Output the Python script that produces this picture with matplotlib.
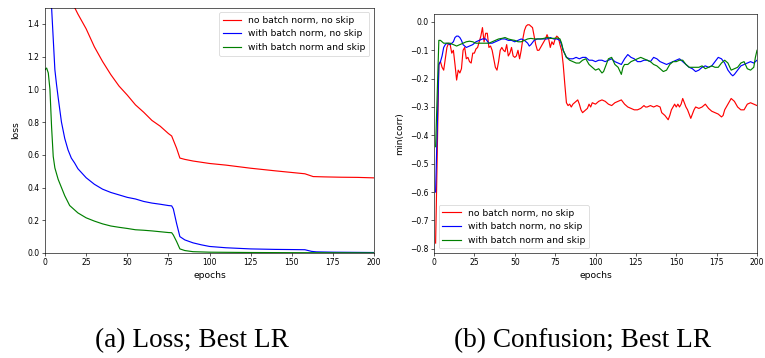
import matplotlib
matplotlib.use("Agg")
import matplotlib.pyplot as plt

# ---- loss curves (epoch, value) ----
loss_nobn_ep = [0, 5, 10, 15, 18, 20, 25, 30, 35, 40, 45, 50, 55, 60, 65, 70, 75, 77,
                80, 82, 85, 90, 100, 110, 125, 140, 150, 158, 163, 170, 180, 190, 200]
loss_nobn = [2.3, 2.0, 1.78, 1.58, 1.50, 1.46, 1.37, 1.26, 1.17, 1.09, 1.02, 0.965, 0.905,
             0.86, 0.81, 0.775, 0.73, 0.715, 0.64, 0.58, 0.572, 0.562, 0.547, 0.537, 0.518,
             0.502, 0.492, 0.484, 0.467, 0.465, 0.463, 0.462, 0.459]

loss_bn_ep = [0, 2, 4, 6, 7, 8, 10, 12, 14, 16, 18, 20, 25, 30, 35, 40, 50, 55, 60, 65, 70,
              75, 77, 78, 80, 82, 85, 90, 95, 100, 110, 125, 140, 150, 158, 162, 165, 175, 200]
loss_bn = [3.0, 2.1, 1.5, 1.12, 1.03, 0.95, 0.80, 0.70, 0.63, 0.58, 0.55, 0.515, 0.46, 0.42,
           0.39, 0.37, 0.34, 0.33, 0.315, 0.305, 0.298, 0.29, 0.288, 0.27, 0.18, 0.10, 0.08,
           0.062, 0.05, 0.04, 0.032, 0.025, 0.022, 0.021, 0.02, 0.01, 0.007, 0.005, 0.003]

loss_skip_ep = [0, 1, 2, 3, 4, 5, 6, 8, 10, 12, 15, 20, 25, 30, 35, 40, 45, 50, 55, 60, 65,
                70, 75, 77, 78, 80, 82, 85, 90, 100, 125, 150, 200]
loss_skip = [1.12, 1.13, 1.10, 1.00, 0.77, 0.59, 0.52, 0.45, 0.40, 0.35, 0.29, 0.245, 0.215,
             0.195, 0.178, 0.165, 0.157, 0.15, 0.142, 0.139, 0.135, 0.13, 0.125, 0.124, 0.11,
             0.07, 0.025, 0.015, 0.008, 0.005, 0.003, 0.002, 0.001]

# ---- minimum correlation curves (epoch, value) ----
corr_nobn_ep = [1, 3, 4, 5, 6, 7, 8, 9, 10, 11, 12, 13, 14, 15, 16, 17, 18, 19, 20, 21, 22,
                23, 24, 25, 26, 27, 28, 29, 30, 31, 32, 33, 34, 35, 36, 37, 38, 39, 40, 41,
                42, 43, 44, 45, 46, 47, 48, 49, 50, 51, 52, 53, 54, 55, 56, 57, 58, 59, 60,
                61, 62, 63, 64, 65, 66, 67, 68, 69, 70, 71, 72, 73, 74, 75, 76, 77, 78, 79,
                80, 81, 82, 83, 84, 85, 86, 88, 89, 90, 91, 92, 93, 95, 96, 97, 98, 100, 102,
                104, 106, 108, 110, 112, 114, 116, 118, 120, 122, 124, 126, 128, 130, 131,
                132, 134, 136, 138, 140, 141, 143, 145, 146, 147, 149, 150, 151, 152, 153,
                154, 155, 156, 157, 158, 159, 160, 161, 162, 164, 166, 168, 170, 172, 174,
                176, 178, 179, 180, 182, 184, 186, 188, 190, 192, 194, 196, 198, 200]
corr_nobn = [-0.78, -0.15, -0.14, -0.16, -0.17, -0.13, -0.09, -0.075, -0.08, -0.11, -0.10,
             -0.15, -0.205, -0.17, -0.18, -0.165, -0.10, -0.09, -0.13, -0.125, -0.14, -0.145,
             -0.11, -0.11, -0.095, -0.09, -0.07, -0.05, -0.02, -0.07, -0.04, -0.04, -0.09,
             -0.085, -0.10, -0.13, -0.16, -0.17, -0.14, -0.10, -0.09, -0.10, -0.105, -0.08,
             -0.12, -0.11, -0.09, -0.12, -0.125, -0.12, -0.10, -0.13, -0.10, -0.06, -0.03,
             -0.015, -0.01, -0.01, -0.015, -0.02, -0.05, -0.08, -0.10, -0.10, -0.09, -0.08,
             -0.07, -0.06, -0.045, -0.06, -0.09, -0.07, -0.08, -0.06, -0.05, -0.055, -0.08,
             -0.10, -0.15, -0.22, -0.285, -0.295, -0.29, -0.30, -0.29, -0.28, -0.275, -0.29,
             -0.31, -0.32, -0.315, -0.305, -0.29, -0.30, -0.285, -0.29, -0.28, -0.275, -0.28,
             -0.29, -0.295, -0.285, -0.28, -0.275, -0.29, -0.30, -0.305, -0.31, -0.31, -0.305,
             -0.295, -0.30, -0.30, -0.295, -0.30, -0.295, -0.30, -0.32, -0.33, -0.345, -0.33,
             -0.31, -0.29, -0.30, -0.29, -0.30, -0.29, -0.27, -0.285, -0.30, -0.31, -0.325,
             -0.34, -0.325, -0.31, -0.30, -0.305, -0.30, -0.29, -0.305, -0.315, -0.32, -0.325,
             -0.335, -0.33, -0.31, -0.29, -0.27, -0.28, -0.30, -0.31, -0.31, -0.29, -0.285,
             -0.29, -0.295]

corr_bn_ep = [1, 3, 4, 5, 6, 7, 8, 10, 12, 13, 14, 15, 16, 17, 18, 19, 20, 22, 24, 26, 28,
              30, 32, 34, 36, 38, 40, 42, 44, 46, 48, 50, 52, 54, 56, 58, 59, 60, 62, 64, 66,
              68, 70, 72, 74, 76, 78, 79, 80, 82, 84, 86, 88, 90, 92, 94, 96, 98, 100, 102,
              104, 106, 108, 110, 112, 114, 116, 118, 120, 122, 124, 126, 128, 130, 132, 134,
              136, 138, 140, 142, 144, 146, 148, 150, 152, 154, 156, 158, 160, 162, 164, 166,
              168, 170, 172, 174, 176, 178, 180, 182, 184, 185, 186, 188, 190, 192, 194, 196,
              198, 200]
corr_bn = [-0.60, -0.15, -0.14, -0.12, -0.09, -0.08, -0.075, -0.08, -0.07, -0.055, -0.05,
           -0.05, -0.055, -0.065, -0.08, -0.085, -0.09, -0.085, -0.08, -0.07, -0.065, -0.06,
           -0.06, -0.075, -0.075, -0.07, -0.065, -0.06, -0.06, -0.065, -0.065, -0.07, -0.065,
           -0.06, -0.065, -0.075, -0.085, -0.08, -0.065, -0.06, -0.06, -0.06, -0.06, -0.055,
           -0.06, -0.06, -0.065, -0.08, -0.10, -0.125, -0.13, -0.13, -0.125, -0.13, -0.125,
           -0.125, -0.135, -0.135, -0.14, -0.135, -0.135, -0.14, -0.135, -0.13, -0.14, -0.145,
           -0.15, -0.13, -0.115, -0.125, -0.13, -0.14, -0.14, -0.135, -0.135, -0.14, -0.125,
           -0.13, -0.14, -0.145, -0.15, -0.145, -0.14, -0.135, -0.13, -0.14, -0.15, -0.16,
           -0.165, -0.175, -0.17, -0.16, -0.155, -0.16, -0.155, -0.14, -0.125, -0.13, -0.145,
           -0.17, -0.185, -0.19, -0.185, -0.17, -0.155, -0.15, -0.145, -0.14, -0.145, -0.135]

corr_skip_ep = [1, 3, 4, 5, 6, 8, 10, 12, 14, 16, 18, 20, 22, 24, 26, 28, 30, 32, 34, 36, 38,
                40, 42, 44, 46, 48, 50, 52, 54, 56, 58, 60, 62, 64, 66, 68, 70, 72, 74, 76, 77,
                78, 79, 80, 82, 84, 86, 88, 90, 92, 94, 96, 98, 100, 102, 104, 105, 106, 108,
                110, 112, 114, 116, 117, 118, 120, 122, 124, 126, 128, 130, 132, 134, 136, 138,
                140, 142, 144, 146, 148, 150, 152, 154, 156, 158, 160, 162, 164, 166, 168, 170,
                172, 174, 176, 178, 180, 182, 184, 186, 188, 190, 192, 194, 196, 198, 199, 200]
corr_skip = [-0.44, -0.065, -0.065, -0.07, -0.075, -0.075, -0.075, -0.08, -0.085, -0.08,
             -0.075, -0.07, -0.068, -0.07, -0.075, -0.075, -0.075, -0.075, -0.075, -0.07,
             -0.065, -0.06, -0.058, -0.055, -0.06, -0.063, -0.065, -0.07, -0.07, -0.065, -0.06,
             -0.058, -0.06, -0.06, -0.06, -0.058, -0.055, -0.058, -0.058, -0.057, -0.057, -0.06,
             -0.075, -0.10, -0.125, -0.135, -0.14, -0.145, -0.145, -0.135, -0.13, -0.15, -0.16,
             -0.17, -0.165, -0.18, -0.175, -0.16, -0.13, -0.125, -0.15, -0.16, -0.185, -0.16,
             -0.15, -0.15, -0.14, -0.135, -0.13, -0.125, -0.13, -0.135, -0.14, -0.15, -0.155,
             -0.165, -0.175, -0.17, -0.15, -0.14, -0.14, -0.135, -0.135, -0.15, -0.16, -0.16,
             -0.16, -0.16, -0.155, -0.165, -0.16, -0.155, -0.16, -0.16, -0.145, -0.135, -0.145,
             -0.17, -0.165, -0.16, -0.145, -0.14, -0.165, -0.17, -0.16, -0.125, -0.10]

labels = ["no batch norm, no skip", "with batch norm, no skip", "with batch norm and skip"]
colors = ["red", "blue", "green"]
x_ticks = [0, 25, 50, 75, 100, 125, 150, 175, 200]

DPI = 56
plt.rcParams.update({
    "xtick.labelsize": 9.8,
    "ytick.labelsize": 9.8,
    "axes.labelsize": 11.8,
    "legend.fontsize": 11.8,
})

fig = plt.figure(figsize=(765 / DPI, 358 / DPI), dpi=DPI)

ax1 = fig.add_axes([45 / 765, 105 / 358, 329 / 765, 245.5 / 358])
for ep, vals, lab, c in zip([loss_nobn_ep, loss_bn_ep, loss_skip_ep],
                            [loss_nobn, loss_bn, loss_skip], labels, colors):
    ax1.plot(ep, vals, color=c, label=lab)
ax1.set_xlim(0, 200)
ax1.set_ylim(0, 1.5)
ax1.set_xticks(x_ticks)
ax1.set_yticks([0.0, 0.2, 0.4, 0.6, 0.8, 1.0, 1.2, 1.4])
ax1.set_xlabel("epochs", labelpad=4)
ax1.set_ylabel("loss", labelpad=9)
ax1.legend(loc="upper right")

ax2 = fig.add_axes([434 / 765, 105 / 358, 323 / 765, 239 / 358])
for ep, vals, lab, c in zip([corr_nobn_ep, corr_bn_ep, corr_skip_ep],
                            [corr_nobn, corr_bn, corr_skip], labels, colors):
    ax2.plot(ep, vals, color=c, label=lab)
ax2.set_xlim(0, 200)
ax2.set_ylim(-0.815, 0.028)
ax2.set_xticks(x_ticks)
ax2.set_yticks([0.0, -0.1, -0.2, -0.3, -0.4, -0.5, -0.6, -0.7, -0.8])
ax2.set_xlabel("epochs", labelpad=4)
ax2.set_ylabel("min(corr)", labelpad=8)
ax2.legend(loc="lower left")

fig.text(191.5 / 765, 11 / 358, "(a) Loss; Best LR", ha="center", va="baseline",
         family="Liberation Serif", fontsize=35)
fig.text(583 / 765, 11 / 358, "(b) Confusion; Best LR", ha="center", va="baseline",
         family="Liberation Serif", fontsize=35)

fig.savefig("out.png", dpi=DPI)
